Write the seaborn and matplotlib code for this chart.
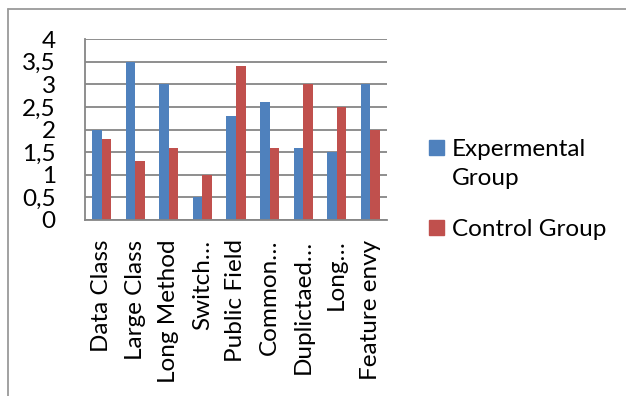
import numpy as np
import pandas as pd
import matplotlib
matplotlib.use("Agg")
import matplotlib.pyplot as plt
import seaborn as sns
from matplotlib.lines import Line2D
from matplotlib.patches import Rectangle

# Datos
categorias = ["Data Class", "Large Class", "Long Method", "Switch…", "Public Field",
              "Common…", "Duplictaed…", "Long…", "Feature envy"]
experimental = [2.0, 3.5, 3.0, 0.5, 2.3, 2.6, 1.6, 1.5, 3.0]
control = [1.8, 1.3, 1.6, 1.0, 3.4, 1.6, 3.0, 2.5, 2.0]
grupos = ["Expermental\nGroup", "Control Group"]
colores = ["#4F81BD", "#C0504D"]
y_ticks = [0, 0.5, 1, 1.5, 2, 2.5, 3, 3.5, 4]
y_labels = ["0", "0,5", "1", "1,5", "2", "2,5", "3", "3,5", "4"]

df = pd.DataFrame({
    "Categoria": categorias * 2,
    "Valor": experimental + control,
    "Grupo": [grupos[0]] * len(categorias) + [grupos[1]] * len(categorias),
})

sns.set_style("white")
plt.rcParams["font.family"] = ["Lato", "DejaVu Sans"]
plt.rcParams["text.color"] = "black"
plt.rcParams["xtick.labelcolor"] = "black"
plt.rcParams["ytick.labelcolor"] = "black"
GRIS = "#868686"
FS = 17.5

W, H = 626, 396
fig = plt.figure(figsize=(W / 100, H / 100), dpi=100)
ax = fig.add_axes([85 / W, 1 - 220 / H, (387 - 85) / W, (220 - 39) / H])

sns.barplot(data=df, x="Categoria", y="Valor", hue="Grupo", palette=colores,
            saturation=1, width=0.57, gap=0, linewidth=0, ax=ax, legend=False)

ax.set_xlim(-0.5, len(categorias) - 0.5)
ax.set_ylim(0, 4)
ax.set_xlabel("")
ax.set_ylabel("")
ax.set_axisbelow(True)
ax.yaxis.grid(True, color=GRIS, lw=1.3)
ax.xaxis.grid(False)
for s in ["top", "right"]:
    ax.spines[s].set_visible(False)
for s in ["left", "bottom"]:
    ax.spines[s].set_color(GRIS)
    ax.spines[s].set_linewidth(1.3)

ax.set_yticks(y_ticks)
ax.set_yticklabels(y_labels, fontsize=FS)
ax.tick_params(axis="y", length=7, width=1.3, color=GRIS, pad=14)

ax.set_xticks(range(len(categorias)))
ax.set_xticklabels(categorias, rotation=90, fontsize=FS, va="top")
ax.set_xticks(np.arange(-0.5, len(categorias), 1), minor=True)
ax.tick_params(axis="x", which="major", length=0, pad=14)
ax.tick_params(axis="x", which="minor", length=6, width=1.3, color=GRIS)

# Leyenda a mano (marcador alineado con la primera línea, como en Excel)
leyenda = [(140, 139), (220, 219)]
for (ys, yt), nombre, color in zip(leyenda, grupos, colores):
    fig.add_artist(Rectangle((429 / W, 1 - (ys + 15) / H), 15 / W, 15 / H,
                             transform=fig.transFigure, color=color))
    fig.text(452 / W, 1 - yt / H, nombre, fontsize=FS, va="top", ha="left",
             linespacing=1.45)

# Marco del gráfico (recortado)
fig.add_artist(Line2D([8 / W, 8 / W], [0, 1 - 9 / H], transform=fig.transFigure,
                      color="#9a9a9a", lw=1.3))
fig.add_artist(Line2D([8 / W, 1], [1 - 9 / H, 1 - 9 / H], transform=fig.transFigure,
                      color="#9a9a9a", lw=1.3))

fig.savefig("out.png", dpi=100)
